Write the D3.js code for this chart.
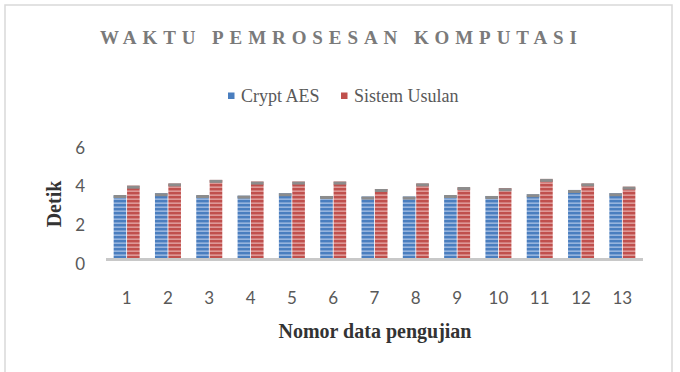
<!DOCTYPE html>
<html>
<head>
<meta charset="utf-8">
<script src="https://cdn.jsdelivr.net/npm/d3@7"></script>
<style>
  body { margin: 0; background: #fff; }
  svg { display: block; }
</style>
</head>
<body>
<svg id="chart"></svg>
<script>
(function () {

    // Data
    const categories = ["1", "2", "3", "4", "5", "6", "7", "8", "9", "10", "11", "12", "13"];
    const seriesNames = ["Crypt AES", "Sistem Usulan"];
    const cryptAes = [3.35, 3.44, 3.35, 3.32, 3.44, 3.30, 3.27, 3.27, 3.35, 3.30, 3.39, 3.61, 3.44];
    const sistemUsulan = [3.83, 3.95, 4.13, 4.04, 4.04, 4.04, 3.66, 3.95, 3.76, 3.70, 4.18, 3.95, 3.78];
    const yTicks = [0, 2, 4, 6];

    const seriesColors = ["#4a7ebf", "#c0504d"];
    const stripeColors = ["#a9c2e6", "#e6aaa8"];

    const width = 680,
        height = 372;

    const svg = d3.select("#chart")
        .attr("width", width)
        .attr("height", height);

    // stripe patterns for the bars
    const defs = svg.append("defs");
    seriesColors.forEach((c, i) => {
        const p = defs.append("pattern")
            .attr("id", "stripe" + i)
            .attr("patternUnits", "userSpaceOnUse")
            .attr("width", 8)
            .attr("height", 4);
        p.append("rect").attr("width", 8).attr("height", 4).attr("fill", c);
        p.append("rect").attr("y", 2.5).attr("width", 8).attr("height", 1.3).attr("fill", stripeColors[i]);
    });

    // outer frame
    svg.append("rect")
        .attr("x", 5)
        .attr("y", 5)
        .attr("width", 667)
        .attr("height", 390)
        .attr("fill", "none")
        .attr("stroke", "#d9d9d9")
        .attr("stroke-width", 1.5);

    // Scales
    const x = d3.scaleBand()
        .domain(categories)
        .range([106, 643])
        .paddingInner(0)
        .paddingOuter(0);

    const y = d3.scaleLinear()
        .domain([0, 6])
        .range([260, 143.6]);

    const barW = 12.6;

    // Title
    svg.append("text")
        .attr("x", 100)
        .attr("y", 44)
        .attr("textLength", 477)
        .attr("lengthAdjust", "spacing")
        .style("font-family", "'Liberation Serif', 'Times New Roman', serif")
        .style("font-weight", "bold")
        .style("font-size", "19px")
        .attr("fill", "#7a7a7a")
        .attr("xml:space", "preserve")
        .text("WAKTU PEMROSESAN KOMPUTASI");

    // Legend
    const legendX = [228, 341];
    const legend = svg.append("g");
    seriesNames.forEach((name, i) => {
        legend.append("rect")
            .attr("x", legendX[i])
            .attr("y", 92.5)
            .attr("width", 6.5)
            .attr("height", 6.5)
            .attr("fill", seriesColors[i]);
        legend.append("text")
            .attr("x", legendX[i] + 13)
            .attr("y", 102)
            .style("font-family", "'Liberation Serif', 'Times New Roman', serif")
            .style("font-size", "18px")
            .attr("fill", "#595959")
            .text(name);
    });

    // Y tick labels
    svg.append("g")
        .selectAll("text")
        .data(yTicks)
        .enter().append("text")
        .attr("x", 85)
        .attr("y", (d) => y(d) + 10)
        .attr("text-anchor", "end")
        .style("font-family", "Lato, 'Noto Sans', sans-serif")
        .style("font-size", "17px")
        .attr("fill", "#595959")
        .text((d) => d);

    // Bars
    const groups = svg.append("g")
        .selectAll("g")
        .data(categories)
        .enter().append("g")
        .attr("transform", (d) => "translate(" + (x(d) + x.bandwidth() / 2) + ",0)");

    [cryptAes, sistemUsulan].forEach((vals, si) => {
        const bx = si === 0 ? -barW - 0.4 : 0.4;
        groups.append("rect")
            .attr("x", bx)
            .attr("y", (d, i) => y(vals[i]))
            .attr("width", barW)
            .attr("height", (d, i) => y(0) - y(vals[i]))
            .attr("fill", "url(#stripe" + si + ")");
        // gray top cap
        groups.append("rect")
            .attr("x", bx)
            .attr("y", (d, i) => y(vals[i]))
            .attr("width", barW)
            .attr("height", 3)
            .attr("fill", "#8c8c8c");
    });

    // x axis line
    svg.append("rect")
        .attr("x", 106)
        .attr("y", 258)
        .attr("width", 537)
        .attr("height", 3)
        .attr("fill", "#c8c8c8");

    // X tick labels
    svg.append("g")
        .selectAll("text")
        .data(categories)
        .enter().append("text")
        .attr("x", (d) => x(d) + x.bandwidth() / 2)
        .attr("y", 303.5)
        .attr("text-anchor", "middle")
        .style("font-family", "Lato, 'Noto Sans', sans-serif")
        .style("font-size", "17px")
        .attr("fill", "#595959")
        .text((d) => d);

    // Axis titles
    svg.append("text")
        .attr("x", 375)
        .attr("y", 338)
        .attr("text-anchor", "middle")
        .style("font-family", "'Liberation Serif', 'Times New Roman', serif")
        .style("font-weight", "bold")
        .style("font-size", "20px")
        .attr("fill", "#333")
        .text("Nomor data pengujian");

    svg.append("text")
        .attr("transform", "translate(61,204) rotate(-90)")
        .attr("text-anchor", "middle")
        .style("font-family", "'Liberation Serif', 'Times New Roman', serif")
        .style("font-weight", "bold")
        .style("font-size", "20px")
        .attr("fill", "#333")
        .text("Detik");
})();
</script>
</body>
</html>
